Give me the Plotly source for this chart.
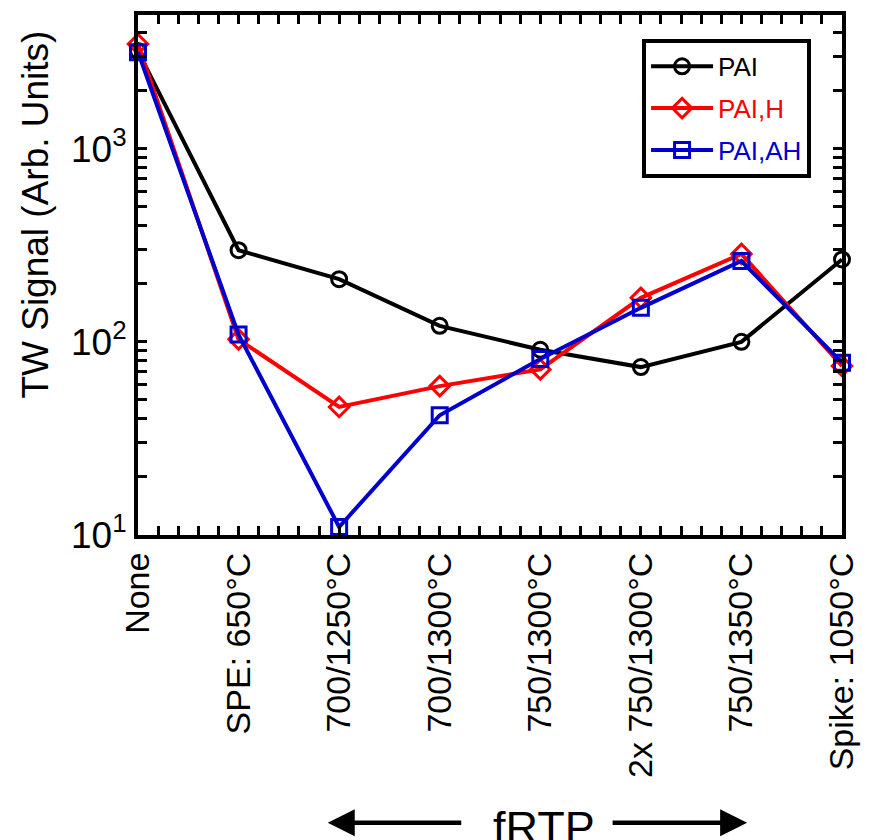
import plotly.graph_objects as go

categories = ["None", "SPE: 650°C", "700/1250°C", "700/1300°C", "750/1300°C",
              "2x 750/1300°C", "750/1350°C", "Spike: 1050°C"]
pai = [3200, 298, 211, 121, 91, 74, 100, 267]
pai_h = [3480, 103, 46, 59, 72, 169, 285, 75]
pai_ah = [3160, 109, 11, 41.7, 81.5, 150, 262, 78]

series_names = ["PAI", "PAI,H", "PAI,AH"]
series_colors = ["#000000", "#FF0000", "#0000CD"]
series_symbols = ["circle-open", "diamond-open", "square-open"]
series_values = [pai, pai_h, pai_ah]

# y ticks: decades labelled, intermediate digits as unlabelled ticks
decade_labels = {10: "10<sup>1</sup>", 100: "10<sup>2</sup>", 1000: "10<sup>3</sup>"}
ytick_vals = [d * m for d in (10, 100, 1000) for m in range(1, 10) if d * m <= 4000]
ytick_text = [decade_labels.get(v, "") for v in ytick_vals]

FONT = "Liberation Sans, Arial, sans-serif"
x_idx = list(range(len(categories)))
# x ticks: categories labelled, four unlabelled ticks between neighbours
xtick_vals = [i + k / 5 for i in x_idx[:-1] for k in range(5)] + [x_idx[-1]]
xtick_text = [categories[int(round(v))] if abs(v - round(v)) < 1e-9 else "" for v in xtick_vals]

fig = go.Figure()
for name, col, sym, vals in zip(series_names, series_colors, series_symbols, series_values):
    fig.add_trace(go.Scatter(
        x=x_idx, y=vals, mode="lines+markers",
        name=f'<span style="color:{col}">{name}</span>',
        legendgroup=name,
        line=dict(color=col, width=4),
        marker=dict(symbol=sym, size=15, color=col, line=dict(color=col, width=3)),
        cliponaxis=False,
    ))

fig.update_layout(
    width=871, height=840,
    margin=dict(l=138, r=28, t=11, b=305),
    paper_bgcolor="white", plot_bgcolor="white",
    font=dict(family=FONT, color="black"),
    showlegend=True,
    legend=dict(
        x=0.716, y=0.954, xanchor="left", yanchor="top",
        bgcolor="white", bordercolor="black", borderwidth=4,
        font=dict(size=26, family=FONT),
        tracegroupgap=5, itemwidth=62,
    ),
)

fig.update_xaxes(
    range=[0, 7], tickmode="array", tickvals=xtick_vals, ticktext=xtick_text,
    tickangle=-90, tickfont=dict(size=34, family=FONT),
    showline=True, linecolor="black", linewidth=4, mirror="ticks",
    ticks="inside", ticklen=9, tickwidth=3, tickcolor="black",
    gridcolor="rgba(0,0,0,0)", zerolinecolor="rgba(0,0,0,0)",
)
fig.update_yaxes(
    type="log", range=[1, 3.692],
    tickmode="array", tickvals=ytick_vals, ticktext=ytick_text,
    tickfont=dict(size=37, family=FONT),
    showline=True, linecolor="black", linewidth=4, mirror="ticks",
    ticks="inside", ticklen=9, tickwidth=3, tickcolor="black",
    gridcolor="rgba(0,0,0,0)", zerolinecolor="rgba(0,0,0,0)",
)

# y-axis title
fig.add_annotation(
    text="TW Signal (Arb. Units)", xref="paper", yref="paper",
    x=-0.145, y=0.616, xanchor="center", yanchor="middle",
    textangle=-90, showarrow=False, font=dict(size=37, family=FONT, color="black"),
)

# fRTP label with arrows
fig.add_annotation(
    text="fRTP", xref="paper", yref="paper",
    x=0.577, y=-0.563, xanchor="center", yanchor="middle",
    showarrow=False, font=dict(size=45, family=FONT, color="black"),
)
fig.add_annotation(
    text="", xref="paper", yref="paper", x=0.2695, y=-0.5535,
    ax=135, ay=0, axref="pixel", ayref="pixel",
    showarrow=True, arrowhead=2, arrowwidth=4.5, arrowsize=1.2, arrowcolor="black",
)
fig.add_annotation(
    text="", xref="paper", yref="paper", x=0.8652, y=-0.5535,
    ax=-136, ay=0, axref="pixel", ayref="pixel",
    showarrow=True, arrowhead=2, arrowwidth=4.5, arrowsize=1.2, arrowcolor="black",
)

fig.write_html("out.html")
